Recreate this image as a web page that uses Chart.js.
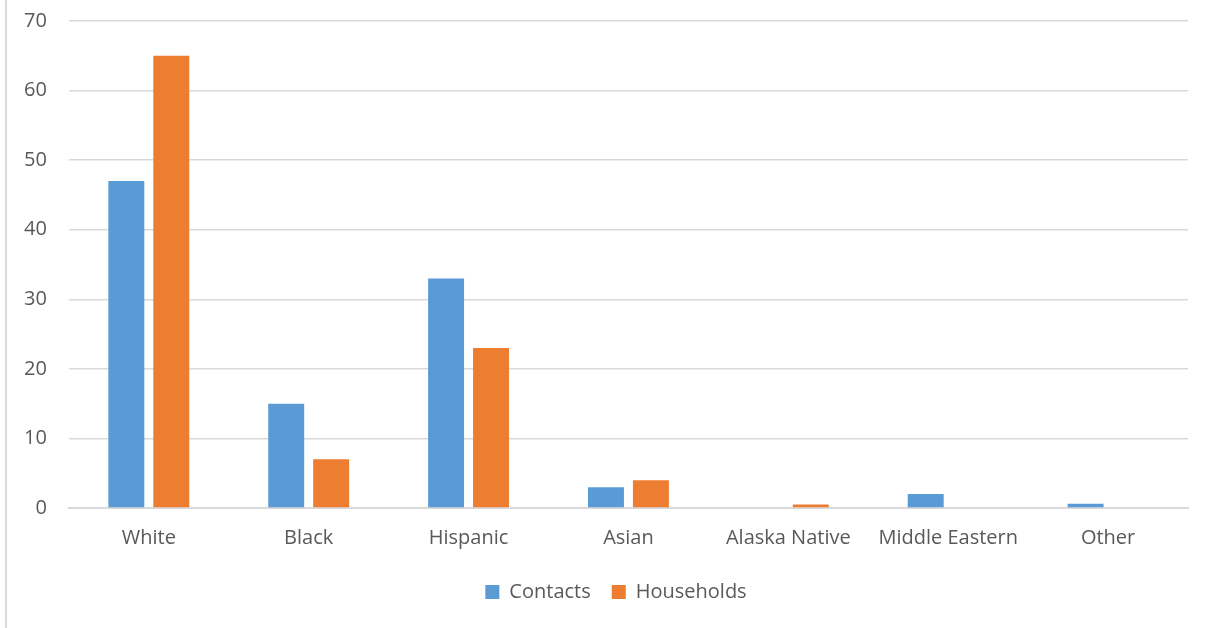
<!DOCTYPE html>
<html>
<head>
<meta charset="utf-8">
<script src="https://cdn.jsdelivr.net/npm/chart.js@4/dist/chart.umd.min.js"></script>
<style>
  html, body { margin: 0; padding: 0; background: #fff; overflow: hidden; }
  #wrap { position: absolute; left: 0; top: -13px; width: 1206px; height: 641px; }
  #frame { position: absolute; left: 5px; top: 0; width: 2px; height: 628px; background: #d9d9d9; }
</style>
</head>
<body>
<div id="wrap"><canvas id="c" width="1206" height="641"></canvas></div>
<div id="frame"></div>
<script>
const categories = ['White', 'Black', 'Hispanic', 'Asian', 'Alaska Native', 'Middle Eastern', 'Other'];
const contacts   = [47, 15, 33, 3, 0, 2, 0.6];
const households = [65, 7, 23, 4, 0.5, 0, 0];

const TEXT = '#595959';
const GRID = '#d9d9d9';
const FONT = { family: 'Open Sans', size: 20 };

// nudge legend so it sits where the original one does
const legendShift = {
  id: 'legendShift',
  afterLayout(chart) {
    const lg = chart.legend;
    lg.left += 21; lg.right += 21;
    lg.top -= 7;   lg.bottom -= 7;
  },
};

new Chart(document.getElementById('c'), {
  type: 'bar',
  data: {
    labels: categories,
    datasets: [
      { label: 'Contacts',   data: contacts,   backgroundColor: '#5b9bd5', categoryPercentage: 0.5625, barPercentage: 0.8 },
      { label: 'Households', data: households, backgroundColor: '#ed7d31', categoryPercentage: 0.5625, barPercentage: 0.8 },
    ],
  },
  options: {
    responsive: false,
    animation: false,
    layout: { padding: { left: 2, right: 18, top: 0, bottom: 9 } },
    scales: {
      x: {
        grid: { display: false, drawTicks: false },
        border: { color: GRID, width: 2 },
        ticks: { color: TEXT, font: FONT, padding: 18 },
      },
      y: {
        min: 0, max: 70,
        grid: { color: GRID, lineWidth: 1.5, drawTicks: false },
        border: { display: false },
        ticks: { stepSize: 10, color: TEXT, font: FONT, padding: 22 },
      },
    },
    plugins: {
      legend: {
        position: 'bottom',
        labels: { color: TEXT, font: FONT, boxWidth: 14, boxHeight: 14, padding: 21 },
      },
      tooltip: { enabled: false },
    },
  },
  plugins: [legendShift],
});
</script>
</body>
</html>
